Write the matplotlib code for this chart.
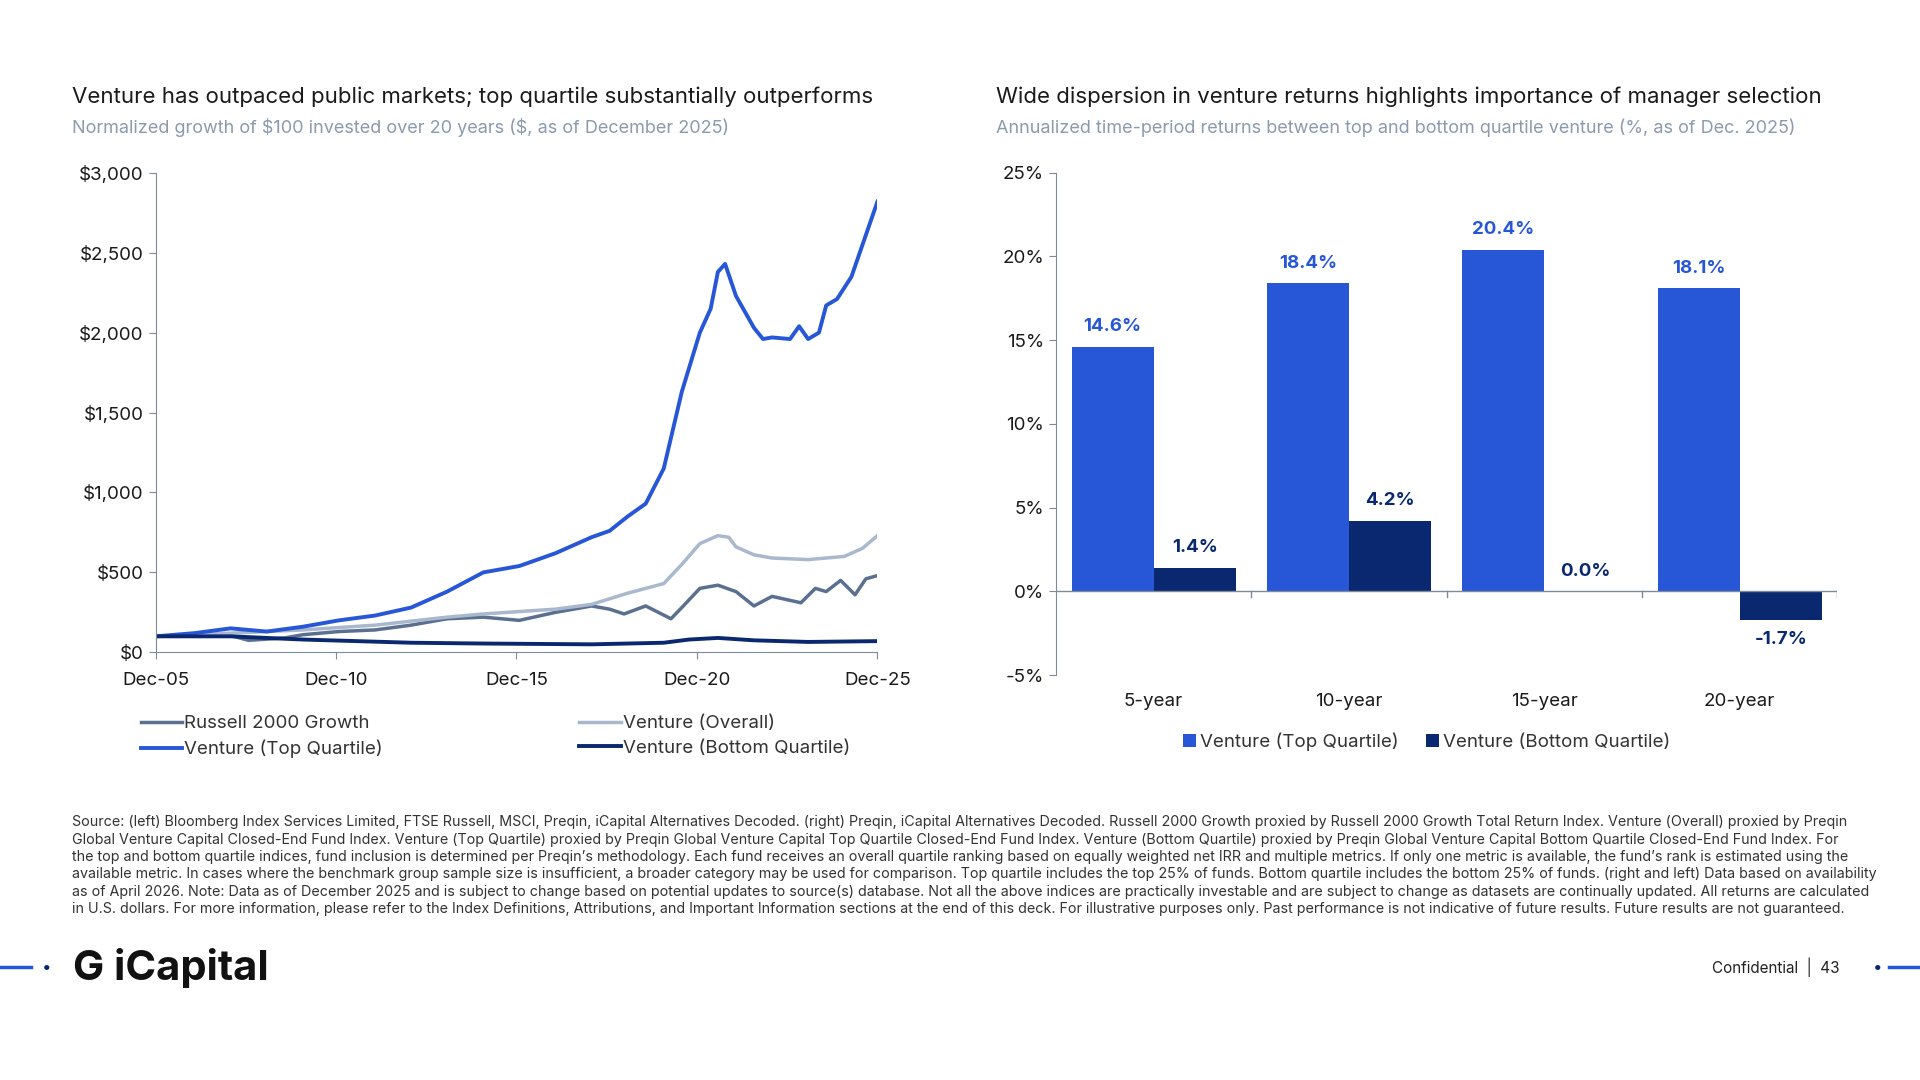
import matplotlib
matplotlib.use("Agg")
import matplotlib.pyplot as plt
import numpy as np

plt.rcParams['font.family'] = ['Inter', 'DejaVu Sans']

# ---- data ----
top_x = [2005.92,2007,2008,2009,2010,2011,2012,2013,2014,2015,2015.5,2016,2017,2018,2018.5,2019,2019.5,2020,2020.5,2021,2021.3,2021.5,2021.7,2022,2022.5,2022.75,2023,2023.5,2023.75,2024,2024.3,2024.5,2024.8,2025.2,2025.92]
top_y = [100,120,150,130,160,200,230,280,380,500,520,540,620,720,760,850,930,1150,1630,2000,2150,2380,2430,2230,2030,1960,1970,1960,2040,1960,2000,2170,2210,2350,2820]
ov_x = [2005.92,2008,2010,2012,2014,2015,2017,2018,2019,2020,2020.5,2021,2021.5,2021.8,2022,2022.5,2023,2024,2025,2025.5,2025.92]
ov_y = [100,120,140,170,220,240,270,300,370,430,550,680,730,720,660,610,590,580,600,650,730]
rg_x = [2005.92,2007,2008,2008.5,2009.5,2010,2011,2012,2013,2014,2015,2016,2017,2018,2018.5,2018.9,2019.5,2020.2,2020.5,2021,2021.5,2022,2022.5,2023,2023.8,2024.2,2024.5,2024.9,2025.3,2025.6,2025.92]
rg_y = [100,110,105,75,90,110,130,140,170,210,220,200,250,290,270,240,290,210,280,400,420,380,290,350,310,400,380,450,360,460,480]
bq_x = [2005.92,2008,2010,2013,2015,2018,2020,2020.7,2021.5,2022.5,2024,2025.92]
bq_y = [100,100,80,60,55,50,60,80,90,75,65,70]

periods = ["5-year","10-year","15-year","20-year"]
top_q = [14.6,18.4,20.4,18.1]
bot_q = [1.4,4.2,0.0,-1.7]

C_TOP = "#2756D6"; C_BOT = "#0A2870"; C_OV = "#A9B8CC"; C_RG = "#5B7090"
GRAY = "#7F8A99"; TXT = "#1A1A1A"; SUB = "#8C9AAE"

fig = plt.figure(figsize=(19.2,10.8), dpi=100)

# ---- left chart ----
ax = fig.add_axes([0.081,0.396,0.376,0.444])
l_rg, = ax.plot(rg_x, rg_y, color=C_RG, lw=2.5, label="Russell 2000 Growth")
l_ov, = ax.plot(ov_x, ov_y, color=C_OV, lw=2.5, label="Venture (Overall)")
l_top, = ax.plot(top_x, top_y, color=C_TOP, lw=2.8, label="Venture (Top Quartile)")
l_bq, = ax.plot(bq_x, bq_y, color=C_BOT, lw=2.8, label="Venture (Bottom Quartile)")
ax.set_ylim(0,3000)
ax.set_xlim(2005.92,2025.92)
ax.set_yticks(range(0,3001,500))
ax.set_yticklabels(["\\$0","\\$500","\\$1,000","\\$1,500","\\$2,000","\\$2,500","\\$3,000"])
ax.set_xticks([2005.92,2010.92,2015.92,2020.92,2025.92])
ax.set_xticklabels(["Dec-05","Dec-10","Dec-15","Dec-20","Dec-25"])
for s in ["top","right"]: ax.spines[s].set_visible(False)
for s in ["left","bottom"]: ax.spines[s].set_color(GRAY)
ax.tick_params(colors=GRAY, labelcolor=TXT, labelsize=13.5, length=5)
ax.tick_params(axis="x", pad=9)
hs = [l_rg, l_top, l_ov, l_bq]
fig.legend(hs, [h.get_label() for h in hs], ncol=2, loc="center", bbox_to_anchor=(0.258,0.318),
           frameon=False, fontsize=13.5, handlelength=2.2, handletextpad=0.1, columnspacing=10.5, labelspacing=0.4, labelcolor="#333333")

# ---- right chart ----
ax2 = fig.add_axes([0.550,0.375,0.407,0.465])
x = np.arange(len(periods))
w = 0.42
b1 = ax2.bar(x-w/2, top_q, w, color=C_TOP, label="Venture (Top Quartile)")
b2 = ax2.bar(x+w/2, bot_q, w, color=C_BOT, label="Venture (Bottom Quartile)")
for xi, v in zip(x-w/2, top_q):
    ax2.text(xi, v+0.7, f"{v:.1f}%", ha="center", va="bottom", color=C_TOP, fontsize=13.5, fontweight="bold")
for xi, v in zip(x+w/2, bot_q):
    if v >= 0:
        ax2.text(xi, v+0.7, f"{v:.1f}%", ha="center", va="bottom", color=C_BOT, fontsize=13.5, fontweight="bold")
    else:
        ax2.text(xi, v-0.7, f"{v:.1f}%", ha="center", va="top", color=C_BOT, fontsize=13.5, fontweight="bold")
ax2.set_ylim(-5,25)
ax2.set_xlim(-0.5,3.5)
ax2.set_yticks(range(-5,26,5))
ax2.set_yticklabels([f"{t}%" for t in range(-5,26,5)])
ax2.axhline(0, color=GRAY, lw=1)
for b in [0.5,1.5,2.5,3.5]:
    ax2.plot([b,b],[0,-0.35], color=GRAY, lw=1)
ax2.set_xticks(x)
ax2.set_xticklabels(periods)
for s in ["top","right","bottom"]: ax2.spines[s].set_visible(False)
ax2.spines["left"].set_color(GRAY)
ax2.tick_params(axis="y", colors=GRAY, labelcolor=TXT, labelsize=13.5, length=5)
ax2.tick_params(axis="x", length=0, labelcolor=TXT, labelsize=13.5, pad=13)
fig.legend(handles=[b1,b2], ncol=2, loc="center", bbox_to_anchor=(0.743,0.313), frameon=False, fontsize=13.5,
           handlelength=0.7, handleheight=0.7, handletextpad=0.2, columnspacing=1.5, labelcolor="#333333")

# ---- titles ----
fig.text(0.0376,0.910,"Venture has outpaced public markets; top quartile substantially outperforms", fontsize=16, color=TXT, va="center")
fig.text(0.0376,0.882,"Normalized growth of \\$100 invested over 20 years (\\$, as of December 2025)", fontsize=13, color=SUB, va="center")
fig.text(0.519,0.910,"Wide dispersion in venture returns highlights importance of manager selection", fontsize=16, color=TXT, va="center")
fig.text(0.519,0.882,"Annualized time-period returns between top and bottom quartile venture (%, as of Dec. 2025)", fontsize=13, color=SUB, va="center")

src = ("Source: (left) Bloomberg Index Services Limited, FTSE Russell, MSCI, Preqin, iCapital Alternatives Decoded. (right) Preqin, iCapital Alternatives Decoded. Russell 2000 Growth proxied by Russell 2000 Growth Total Return Index. Venture (Overall) proxied by Preqin\n"
"Global Venture Capital Closed-End Fund Index. Venture (Top Quartile) proxied by Preqin Global Venture Capital Top Quartile Closed-End Fund Index. Venture (Bottom Quartile) proxied by Preqin Global Venture Capital Bottom Quartile Closed-End Fund Index. For\n"
"the top and bottom quartile indices, fund inclusion is determined per Preqin\u2019s methodology. Each fund receives an overall quartile ranking based on equally weighted net IRR and multiple metrics. If only one metric is available, the fund\u2019s rank is estimated using the\n"
"available metric. In cases where the benchmark group sample size is insufficient, a broader category may be used for comparison. Top quartile includes the top 25% of funds. Bottom quartile includes the bottom 25% of funds. (right and left) Data based on availability\n"
"as of April 2026. Note: Data as of December 2025 and is subject to change based on potential updates to source(s) database. Not all the above indices are practically investable and are subject to change as datasets are continually updated. All returns are calculated\n"
"in U.S. dollars. For more information, please refer to the Index Definitions, Attributions, and Important Information sections at the end of this deck. For illustrative purposes only. Past performance is not indicative of future results. Future results are not guaranteed.")
fig.text(0.0376,0.245,src, fontsize=10.3, color="#333333", va="top", linespacing=1.3)

# ---- footer ----
fig.add_artist(plt.Line2D([0,0.016],[0.1045,0.1045], color=C_TOP, lw=2.5))
fig.add_artist(plt.Line2D([0.984,1.0],[0.1045,0.1045], color=C_TOP, lw=2.5))
fig.text(0.0245,0.1045,"\u2022", fontsize=12, color=C_BOT, ha="center", va="center")
fig.text(0.978,0.1045,"\u2022", fontsize=12, color=C_BOT, ha="center", va="center")
fig.text(0.038,0.104,"G iCapital", fontsize=30, fontweight="bold", color="#111111", va="center")
fig.text(0.958,0.1045,"Confidential  |  43", fontsize=11, color="#222222", ha="right", va="center")

fig.savefig("out.png", dpi=100, facecolor="white")
